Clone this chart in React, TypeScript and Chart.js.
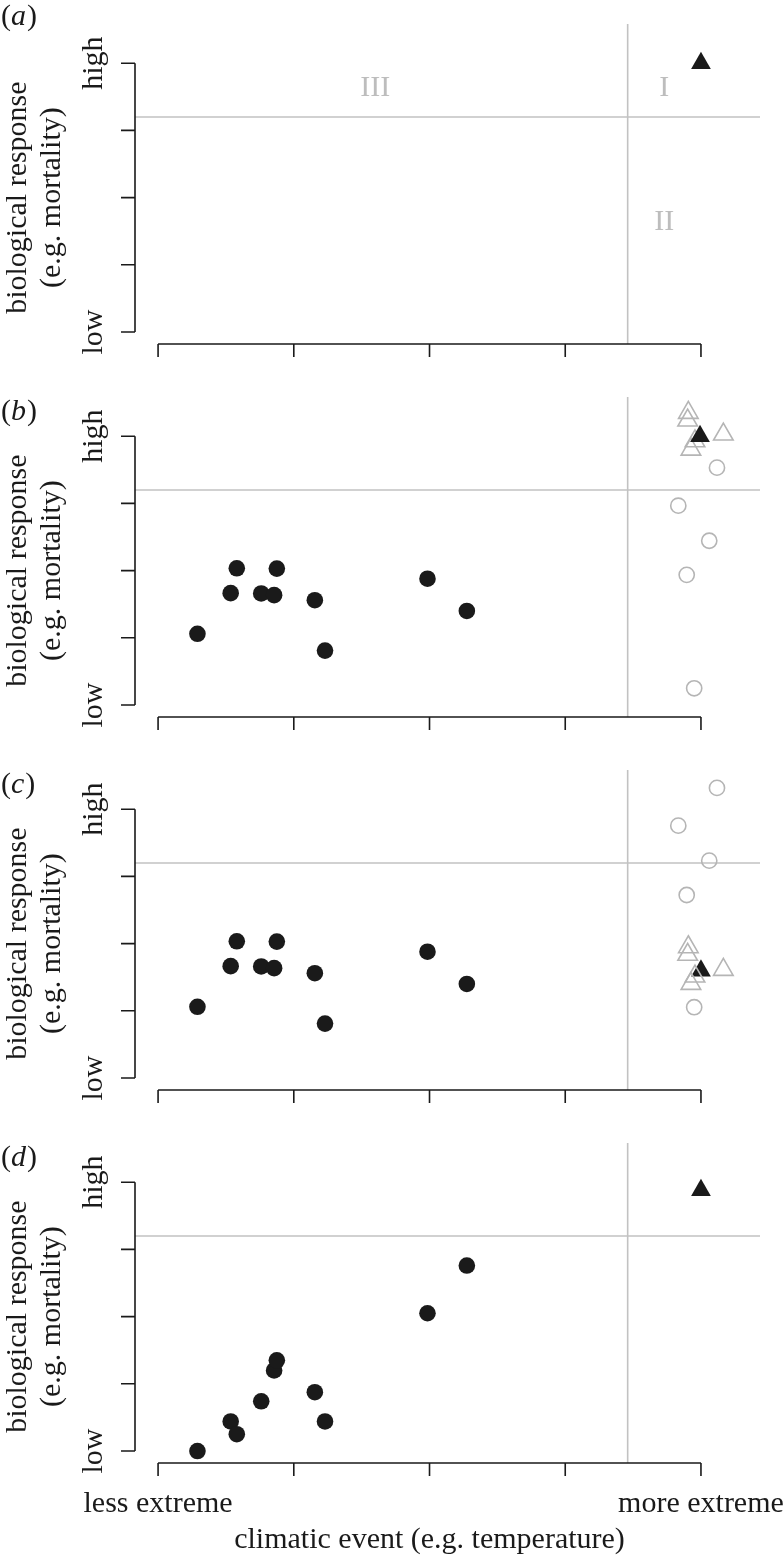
import React, { useEffect, useRef } from 'react';
import { Chart, registerables } from 'chart.js';

Chart.register(...registerables);

const FONT_FAMILY = '"Liberation Serif", "DejaVu Serif", serif';
const FONT_SIZE = 30;
const BLACK = '#1a1a1a';
const MARK_GRAY = '#b5b5b5';
const LINE_GRAY = '#c2c2c2';
const TEXT_GRAY = '#bdbdbd';

// axes
const xTickValues = [0, 1, 2, 3, 4];
const yTickValues = [0, 1, 2, 3, 4];
const xTickLabels = ['less extreme', '', '', '', 'more extreme'];
const yTickLabels = ['low', '', '', '', 'high'];
const panelLetters = ['a', 'b', 'c', 'd'];
const yTitleLines = ['biological response', '(e.g. mortality)'];
const xTitle = 'climatic event (e.g. temperature)';

const xRange = [-0.17, 4.435];
const yRange = [-0.178, 4.583];
const thresholdX = 3.46;
const thresholdY = 3.2;

// region labels (panel a)
const regionLabels = ['I', 'II', 'III'];
const regionLabelX = [3.73, 3.73, 1.6];
const regionLabelY = [3.63, 1.64, 3.63];

// local (black circle) events
const localX = [0.29, 0.535, 0.58, 0.76, 0.855, 0.875, 1.155, 1.23, 1.985, 2.275];
const localYB = [1.06, 1.665, 2.035, 1.66, 1.635, 2.03, 1.56, 0.81, 1.88, 1.4];
const localYC = [1.06, 1.665, 2.035, 1.66, 1.635, 2.03, 1.56, 0.81, 1.88, 1.4];
const localYD = [0.0, 0.44, 0.25, 0.74, 1.2, 1.35, 0.875, 0.44, 2.05, 2.76];

// focal event (black triangle), per panel
const focalX = [4.0, 3.993, 4.0, 4.0];
const focalY = [4.0, 4.0, 1.597, 3.88];

// other extreme events (grey), panels b and c
const greyTriX = [3.907, 3.902, 4.165, 3.956, 3.926];
const greyTriYB = [4.349, 4.235, 4.027, 3.927, 3.803];
const greyTriYC = [1.949, 1.836, 1.612, 1.513, 1.403];
const greyCircX = [4.118, 3.833, 4.061, 3.895, 3.95];
const greyCircYB = [3.532, 2.966, 2.444, 1.937, 0.249];
const greyCircYC = [4.317, 3.755, 3.234, 2.723, 1.054];

// layout
const WIDTH = 783;
const panelTops = [0, 373, 746, 1119];
const panelHeights = [373, 373, 373, 439];
const AREA_LEFT = 135;
const AREA_RIGHT = 760;
const AREA_TOP = 24;
const AREA_BOTTOM = 344;

const pts = (xs: number[], ys: number[]) => xs.map((x, i) => ({ x, y: ys[i] }));

function buildDatasets(idx: number) {
  const ds: any[] = [];
  ds.push({
    type: 'line',
    data: [
      { x: xRange[0], y: thresholdY },
      { x: xRange[1], y: thresholdY },
    ],
    borderColor: LINE_GRAY,
    borderWidth: 1.6,
    pointRadius: 0,
    showLine: true,
    order: 20,
  });
  ds.push({
    type: 'line',
    data: [
      { x: thresholdX, y: yRange[0] },
      { x: thresholdX, y: yRange[1] },
    ],
    borderColor: LINE_GRAY,
    borderWidth: 1.6,
    pointRadius: 0,
    showLine: true,
    order: 20,
  });
  const localY = idx === 1 ? localYB : idx === 2 ? localYC : idx === 3 ? localYD : null;
  if (localY) {
    ds.push({
      data: pts(localX, localY),
      pointStyle: 'circle',
      pointRadius: 8.3,
      backgroundColor: BLACK,
      borderWidth: 0,
      order: 5,
    });
  }
  if (idx === 1 || idx === 2) {
    ds.push({
      data: pts(greyCircX, idx === 1 ? greyCircYB : greyCircYC),
      pointStyle: 'circle',
      pointRadius: 7.6,
      backgroundColor: 'rgba(255,255,255,0)',
      borderColor: MARK_GRAY,
      borderWidth: 1.6,
      order: 4,
    });
    ds.push({
      data: pts(greyTriX, idx === 1 ? greyTriYB : greyTriYC),
      pointStyle: 'triangle',
      pointRadius: 11.3,
      backgroundColor: 'rgba(255,255,255,0)',
      borderColor: MARK_GRAY,
      borderWidth: 1.6,
      order: idx === 1 ? 3 : 1,
    });
  }
  ds.push({
    data: [{ x: focalX[idx], y: focalY[idx] }],
    pointStyle: 'triangle',
    pointRadius: 11.4,
    backgroundColor: BLACK,
    borderColor: BLACK,
    borderWidth: 0,
    order: 2,
  });
  return ds;
}

function font(style = '') {
  return `${style ? style + ' ' : ''}${FONT_SIZE}px ${FONT_FAMILY}`;
}

function makePlugin(idx: number) {
  return {
    id: 'rAxes' + idx,
    afterDraw(chart: any) {
      const ctx: CanvasRenderingContext2D = chart.ctx;
      const xs = chart.scales.x;
      const ys = chart.scales.y;
      const area = chart.chartArea;
      ctx.save();
      ctx.strokeStyle = BLACK;
      ctx.fillStyle = BLACK;
      ctx.lineWidth = 1.6;
      ctx.lineCap = 'butt';

      // y axis
      const yTop = ys.getPixelForValue(yTickValues[yTickValues.length - 1]);
      const yBot = ys.getPixelForValue(yTickValues[0]);
      ctx.beginPath();
      ctx.moveTo(area.left, yTop);
      ctx.lineTo(area.left, yBot);
      yTickValues.forEach((v) => {
        const p = ys.getPixelForValue(v);
        ctx.moveTo(area.left, p);
        ctx.lineTo(area.left - 14, p);
      });
      ctx.stroke();

      // x axis
      const xL = xs.getPixelForValue(xTickValues[0]);
      const xR = xs.getPixelForValue(xTickValues[xTickValues.length - 1]);
      ctx.beginPath();
      ctx.moveTo(xL, area.bottom);
      ctx.lineTo(xR, area.bottom);
      xTickValues.forEach((v) => {
        const p = xs.getPixelForValue(v);
        ctx.moveTo(p, area.bottom);
        ctx.lineTo(p, area.bottom + 13);
      });
      ctx.stroke();

      // y tick labels (rotated)
      ctx.font = font();
      ctx.textAlign = 'center';
      ctx.textBaseline = 'alphabetic';
      yTickValues.forEach((v, i) => {
        const lab = yTickLabels[i];
        if (!lab) return;
        const p = ys.getPixelForValue(v);
        ctx.save();
        ctx.translate(102, p);
        ctx.rotate(-Math.PI / 2);
        ctx.fillText(lab, 0, 0);
        ctx.restore();
      });

      // y title
      const yMid = (yTop + yBot) / 2;
      const titleX = [26, 60];
      yTitleLines.forEach((t, i) => {
        ctx.save();
        ctx.translate(titleX[i], yMid);
        ctx.rotate(-Math.PI / 2);
        ctx.fillText(t, 0, 0);
        ctx.restore();
      });

      // panel letter
      const letterBase = idx === 0 ? 25 : 47;
      ctx.textAlign = 'left';
      ctx.font = font();
      let cx = 1;
      ctx.fillText('(', cx, letterBase);
      cx += ctx.measureText('(').width;
      ctx.font = font('italic');
      ctx.fillText(panelLetters[idx], cx, letterBase);
      cx += ctx.measureText(panelLetters[idx]).width + 1;
      ctx.font = font();
      ctx.fillText(')', cx, letterBase);

      // region labels
      if (idx === 0) {
        ctx.fillStyle = TEXT_GRAY;
        ctx.textAlign = 'center';
        ctx.textBaseline = 'middle';
        regionLabels.forEach((t, i) => {
          ctx.fillText(t, xs.getPixelForValue(regionLabelX[i]), ys.getPixelForValue(regionLabelY[i]));
        });
      }

      // x tick labels and title on last panel
      if (idx === 3) {
        ctx.fillStyle = BLACK;
        ctx.textAlign = 'center';
        ctx.textBaseline = 'alphabetic';
        xTickValues.forEach((v, i) => {
          const lab = xTickLabels[i];
          if (!lab) return;
          ctx.fillText(lab, xs.getPixelForValue(v), area.bottom + 49);
        });
        ctx.fillText(xTitle, (xL + xR) / 2, area.bottom + 85);
      }
      ctx.restore();
    },
  };
}

function Panel({ idx }: { idx: number }) {
  const ref = useRef<HTMLCanvasElement | null>(null);
  useEffect(() => {
    if (!ref.current) return;
    const h = panelHeights[idx];
    const chart = new Chart(ref.current, {
      type: 'scatter',
      data: { datasets: buildDatasets(idx) },
      options: {
        animation: false,
        responsive: false,
        maintainAspectRatio: false,
        devicePixelRatio: 1,
        layout: {
          padding: {
            left: AREA_LEFT,
            right: WIDTH - AREA_RIGHT,
            top: AREA_TOP,
            bottom: h - AREA_BOTTOM,
          },
        },
        scales: {
          x: { type: 'linear', min: xRange[0], max: xRange[1], display: false },
          y: { type: 'linear', min: yRange[0], max: yRange[1], display: false },
        },
        plugins: {
          legend: { display: false },
          tooltip: { enabled: false },
        },
      },
      plugins: [makePlugin(idx)],
    });
    return () => chart.destroy();
  }, [idx]);
  return (
    <canvas
      ref={ref}
      width={WIDTH}
      height={panelHeights[idx]}
      style={{ position: 'absolute', left: 0, top: panelTops[idx], width: WIDTH, height: panelHeights[idx] }}
    />
  );
}

export default function App() {
  return (
    <div style={{ position: 'absolute', left: 0, top: 0, width: WIDTH, height: 1558, background: '#fff' }}>
      {[0, 1, 2, 3].map((i) => (
        <Panel key={i} idx={i} />
      ))}
    </div>
  );
}
